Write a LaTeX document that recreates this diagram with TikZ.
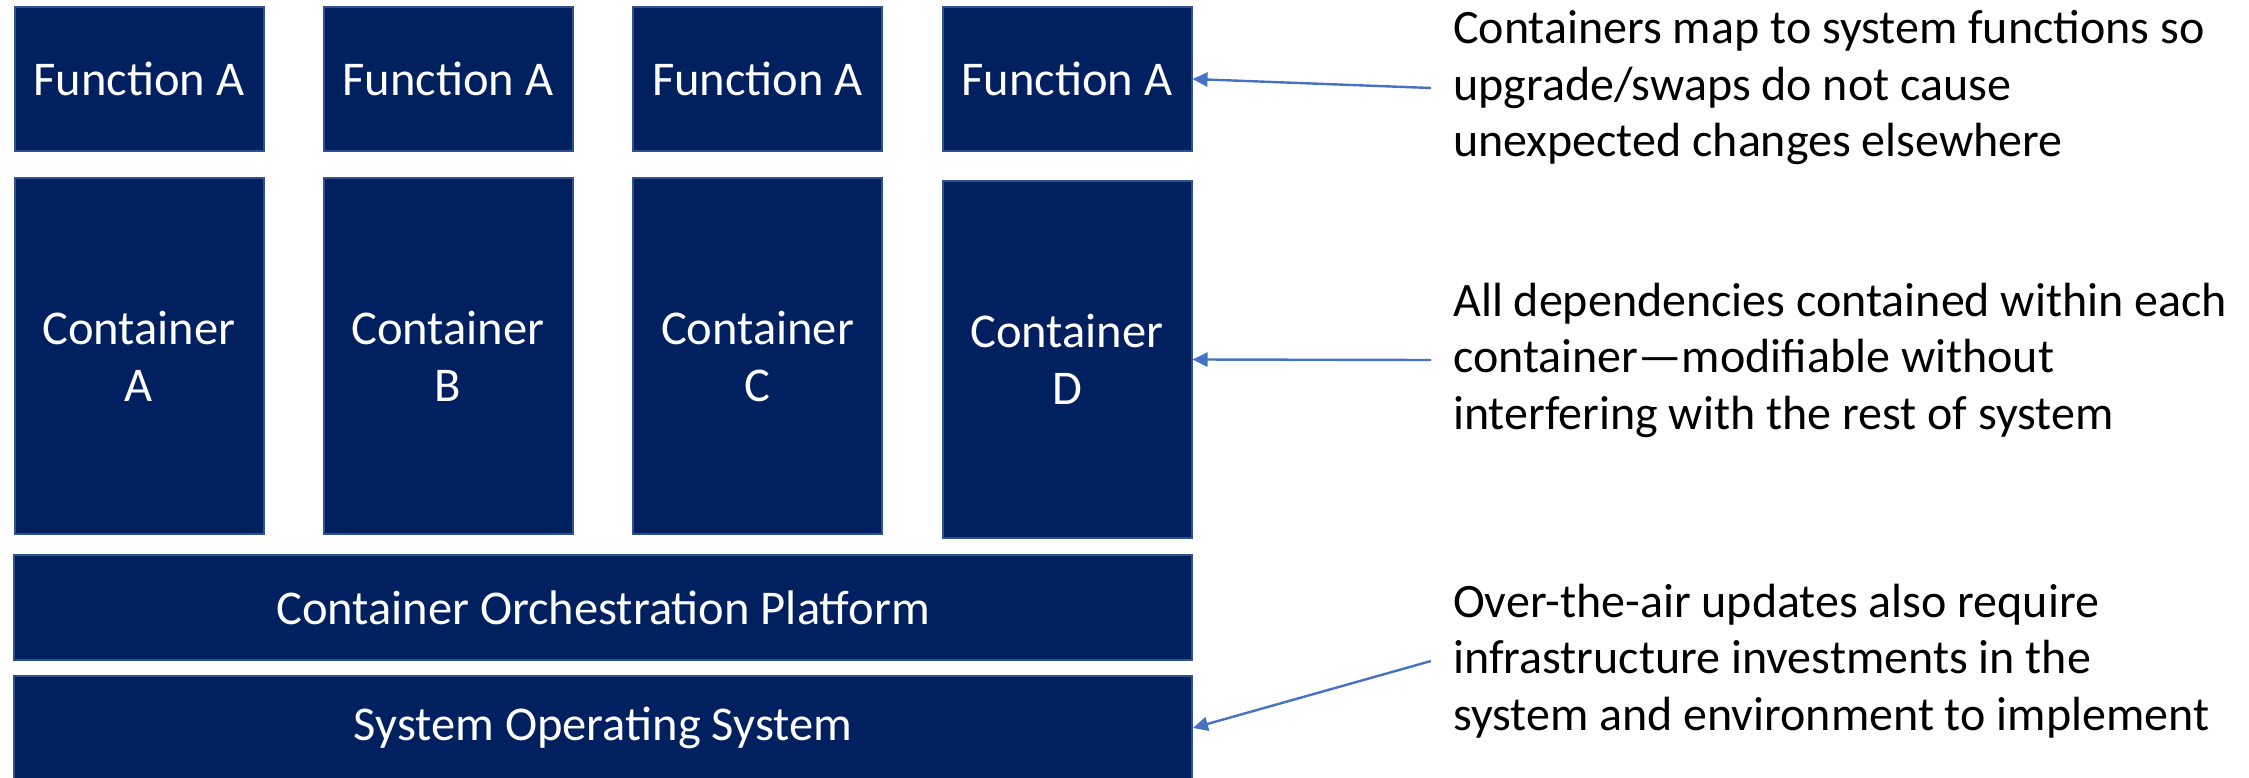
\documentclass[tikz,border=0pt]{standalone}
\usepackage{fontspec}
\setmainfont{Carlito}
\usetikzlibrary{arrows.meta}
\definecolor{navy}{HTML}{002060}
\definecolor{boxedge}{HTML}{2F528F}
\definecolor{arrblue}{HTML}{4472C4}
\tikzset{
  box/.style={draw=boxedge, line width=2pt, fill=navy, text=white,
    font=\fontsize{48.5}{57}\selectfont, align=center, inner sep=0pt},
  colbox/.style={box, minimum width=249pt},
  note/.style={anchor=west, align=left, inner xsep=22pt, inner ysep=0pt,
    font=\fontsize{48}{56.5}\selectfont, text=black},
  conn/.style={draw=arrblue, line width=2.4pt, -{Triangle[length=15pt,width=14pt]}}
}
\begin{document}
\begin{tikzpicture}[x=1pt,y=-1pt]
\useasboundingbox (0,0) rectangle (2249,778);
% function row
\node[colbox, minimum height=144pt] (f1) at (139,79) {Function A};
\node[colbox, minimum height=144pt] (f2) at (448,79) {Function A};
\node[colbox, minimum height=144pt] (f3) at (757.5,79) {Function A};
\node[colbox, minimum height=144pt] (f4) at (1067,79) {Function A};
% container row
\node[colbox, minimum height=356pt] (c1) at (139,356) {Container\\A};
\node[colbox, minimum height=356pt] (c2) at (448,356) {Container\\B};
\node[colbox, minimum height=356pt] (c3) at (757.5,356) {Container\\C};
\node[colbox, minimum height=357pt] (c4) at (1067,359.5) {Container\\D};
% platform layers
\node[box, minimum width=1178pt, minimum height=105pt] (orch) at (603,607.5) {Container Orchestration Platform};
\node[box, minimum width=1178pt, minimum height=104pt] (os) at (603,728) {System Operating System};
% notes
\node[note] (t1) at (1431,88) {Containers map to system functions so\\upgrade/swaps do not cause\\unexpected changes elsewhere};
\node[note] (t2) at (1431,360) {All dependencies contained within each\\container—modifiable without\\interfering with the rest of system};
\node[note] (t3) at (1431,661) {Over-the-air updates also require\\infrastructure investments in the\\system and environment to implement};
% connectors
\draw[conn] (t1.west) -- (f4.east);
\draw[conn] (t2.west) -- (c4.east);
\draw[conn] (t3.west) -- (os.east);
\end{tikzpicture}
\end{document}
